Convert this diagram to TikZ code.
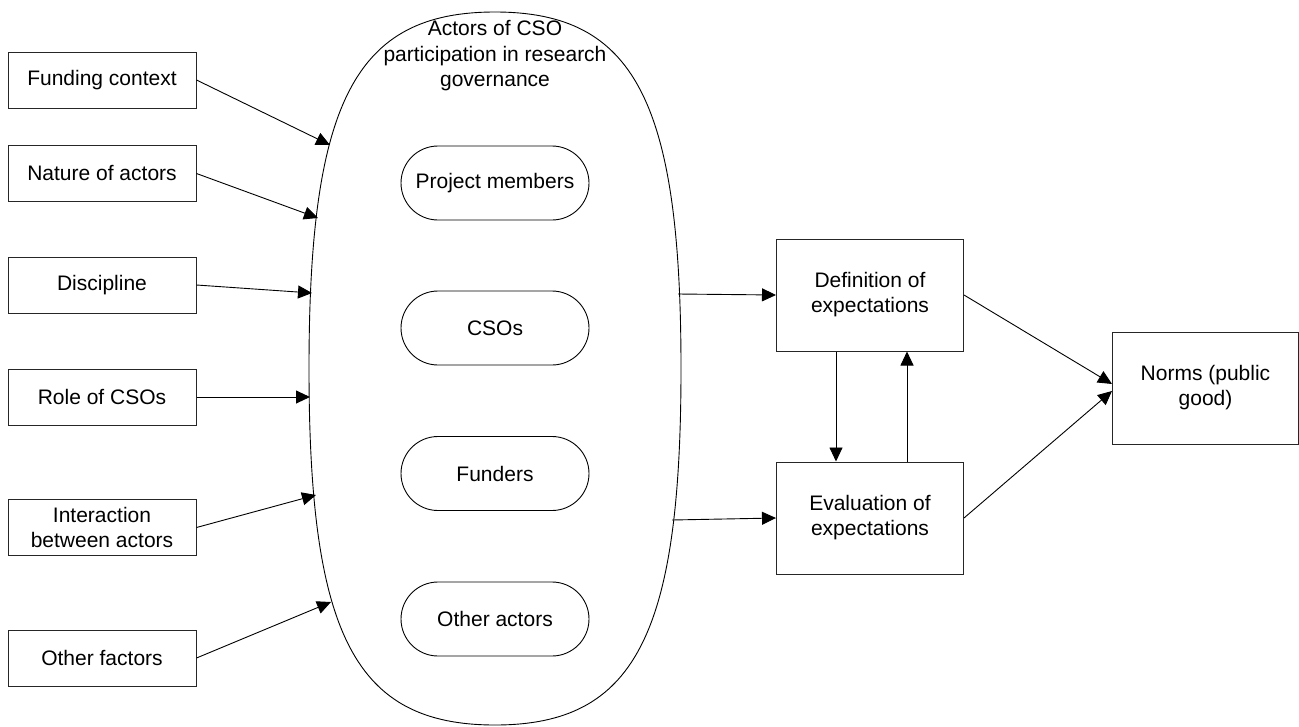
\documentclass[tikz,border=0pt]{standalone}
\usepackage{fontspec}
\setmainfont{Liberation Sans}
\usetikzlibrary{arrows.meta}
\begin{document}
\begin{tikzpicture}[x=1pt, y=-1pt,
  font=\fontsize{21}{25}\selectfont,
  box/.style={draw=black!85, line width=1pt, align=center, inner sep=0pt},
  factor/.style={box, minimum width=188pt, minimum height=56pt},
  stage/.style={box, minimum width=187pt, minimum height=112pt},
  pill/.style={draw, line width=0.9pt, rounded corners=37pt,
    minimum width=188pt, minimum height=74pt, inner sep=0pt},
  link/.style={line width=0.9pt, -{Triangle[length=14pt, width=13pt]}},
]
\useasboundingbox (0,0) rectangle (1299,726);

% outer rounded oval holding the actors
\draw[line width=0.9pt]
  (309,368.5) .. controls (309,101.1) and (355.5,12) .. (495,12)
  .. controls (634.5,12) and (681,101.1) .. (681,368.5)
  .. controls (681,635.9) and (634.5,725) .. (495,725)
  .. controls (355.5,725) and (309,635.9) .. (309,368.5) -- cycle;
\node[align=center, inner sep=0pt, font=\fontsize{21}{25.5}\selectfont]
  (title) at (495,56) {Actors of CSO\\participation in research\\governance};

% points on the oval's outline where connectors meet it
\coordinate (in1) at (330,145);
\coordinate (in2) at (318,218);
\coordinate (in3) at (312,293);
\coordinate (in4) at (310,397);
\coordinate (in5) at (316,495);
\coordinate (in6) at (331,602);
\coordinate (out1) at (678,294);
\coordinate (out2) at (672,520);

% actors
\node[pill] (members) at (495,183) {Project members};
\node[pill] (csos) at (495,328) {CSOs};
\node[pill] (funders) at (495,473.5) {Funders};
\node[pill] (others) at (495,619) {Other actors};

% influencing factors
\node[factor] (fund) at (102,80) {Funding context};
\node[factor] (nature) at (102,173.5) {Nature of actors};
\node[factor] (disc) at (102,285) {Discipline};
\node[factor] (role) at (102,397) {Role of CSOs};
\node[factor] (inter) at (102,527.5) {Interaction\\between actors};
\node[factor] (other) at (102,658) {Other factors};

% expectations and norms
\node[stage] (def) at (870,295) {Definition of\\expectations};
\node[stage] (eval) at (870,518) {Evaluation of\\expectations};
\node[box, minimum width=186pt, minimum height=112pt] (norms) at (1205.5,388) {Norms (public\\good)};

% connectors
\draw[link] (fund.east) -- (in1);
\draw[link] (nature.east) -- (in2);
\draw[link] (disc.east) -- (in3);
\draw[link] (role.east) -- (in4);
\draw[link] (inter.east) -- (in5);
\draw[link] (other.east) -- (in6);
\draw[link] (out1) -- (def.west);
\draw[link] (out2) -- (eval.west);
\draw[link] ([xshift=-34pt]def.south) -- ([xshift=-34pt]eval.north);
\draw[link] ([xshift=37pt]eval.north) -- ([xshift=37pt]def.south);
\draw[link] (def.east) -- ([yshift=4pt]norms.west);
\draw[link] (eval.east) -- ([yshift=-3pt]norms.west);
\end{tikzpicture}
\end{document}
